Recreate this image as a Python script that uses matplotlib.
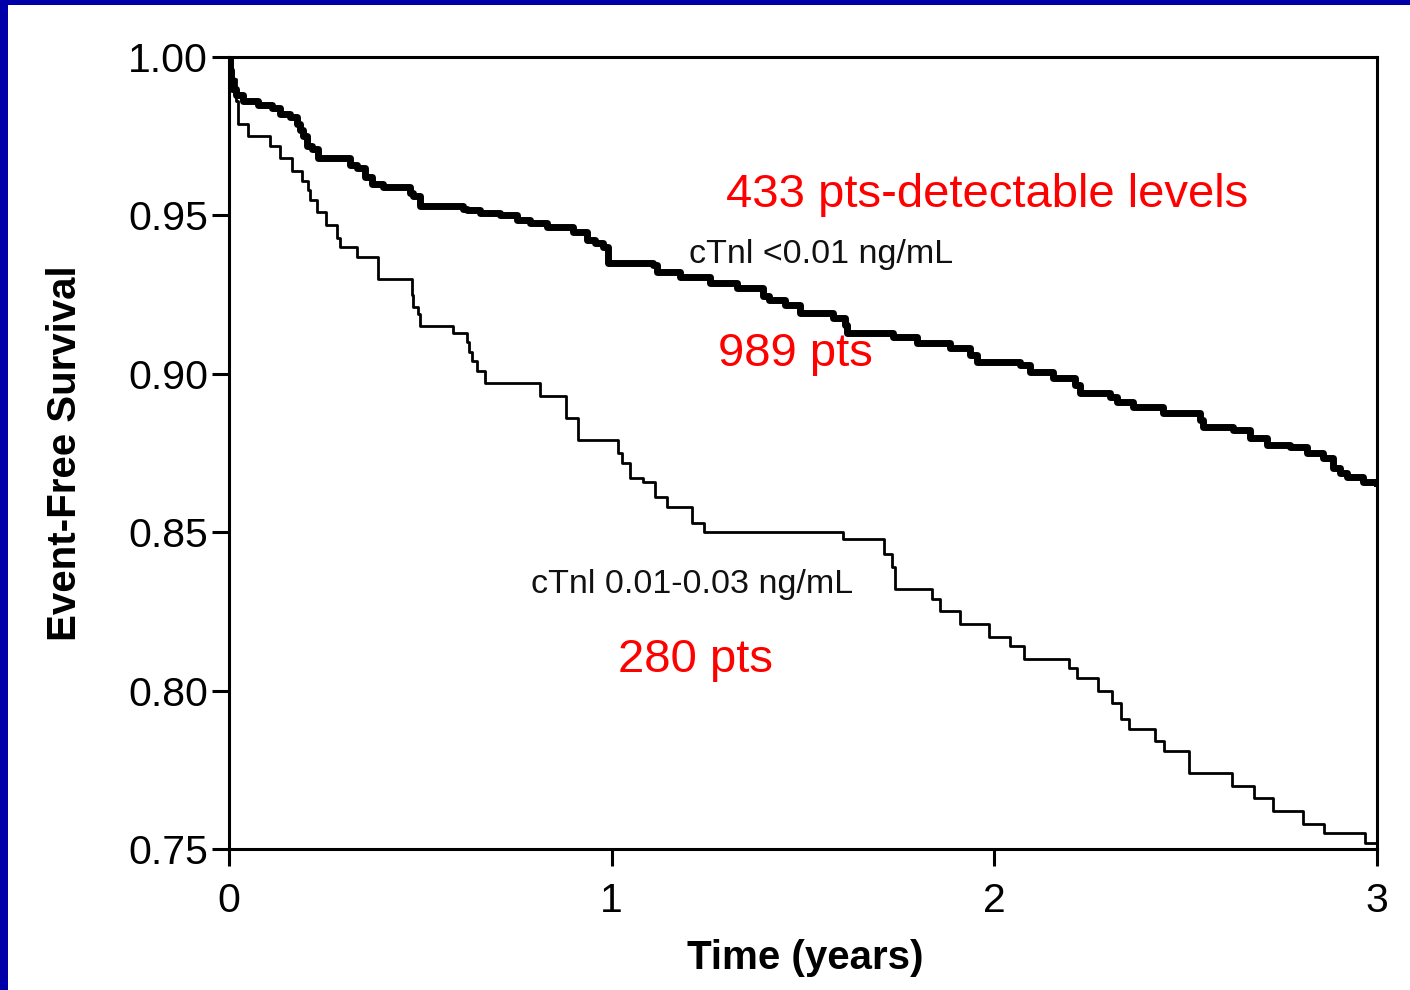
import matplotlib
matplotlib.use("Agg")
import matplotlib.pyplot as plt
from matplotlib.patches import Rectangle
import numpy as np

plt.rcParams['font.family'] = ['Liberation Sans', 'DejaVu Sans']

# Kaplan-Meier steps (time in years, survival after the step)
t_low = [0.000, 0.003, 0.005, 0.008, 0.018, 0.037, 0.076, 0.112, 0.133, 0.159,
         0.178, 0.186, 0.193, 0.204, 0.217, 0.233, 0.316, 0.334, 0.355, 0.374,
         0.402, 0.473, 0.481, 0.499, 0.611, 0.622, 0.656, 0.708, 0.753, 0.787,
         0.831, 0.899, 0.936, 0.956, 0.977, 0.990, 1.108, 1.118, 1.178, 1.257,
         1.327, 1.395, 1.412, 1.453, 1.492, 1.578, 1.610, 1.615, 1.735, 1.798,
         1.884, 1.936, 1.955, 2.067, 2.093, 2.153, 2.211, 2.224, 2.302, 2.320,
         2.362, 2.441, 2.537, 2.545, 2.624, 2.668, 2.713, 2.773, 2.817, 2.859,
         2.885, 2.903, 2.922, 2.963, 3.000]
s_low = [1.000, 0.996, 0.993, 0.990, 0.988, 0.986, 0.985, 0.984, 0.982, 0.981,
         0.979, 0.977, 0.975, 0.972, 0.971, 0.968, 0.966, 0.965, 0.962, 0.960,
         0.959, 0.957, 0.956, 0.953, 0.952, 0.9517, 0.9508, 0.950, 0.9485, 0.9476,
         0.9463, 0.9448, 0.9422, 0.9413, 0.940, 0.935, 0.9344, 0.9321, 0.9306, 0.9287,
         0.9271, 0.9245, 0.9233, 0.9217, 0.9192, 0.9176, 0.9154, 0.9129, 0.9116, 0.9097,
         0.9081, 0.9059, 0.9037, 0.9028, 0.9006, 0.8987, 0.8965, 0.8939, 0.8927, 0.8911,
         0.8895, 0.8876, 0.8854, 0.8832, 0.8822, 0.8797, 0.8775, 0.8769, 0.8750, 0.8734,
         0.8703, 0.8687, 0.8674, 0.8658, 0.8655]

t_mid = [0.000, 0.005, 0.018, 0.024, 0.050, 0.107, 0.133, 0.165, 0.191, 0.206,
         0.212, 0.230, 0.253, 0.282, 0.290, 0.334, 0.389, 0.478, 0.481, 0.494,
         0.499, 0.585, 0.622, 0.627, 0.635, 0.648, 0.669, 0.813, 0.881, 0.912,
         1.017, 1.027, 1.048, 1.082, 1.113, 1.145, 1.210, 1.241, 1.605, 1.712,
         1.733, 1.740, 1.837, 1.858, 1.910, 1.986, 2.041, 2.077, 2.195, 2.216,
         2.271, 2.307, 2.331, 2.352, 2.420, 2.443, 2.509, 2.621, 2.679, 2.728,
         2.807, 2.861, 2.969, 3.000]
s_mid = [1.000, 0.993, 0.986, 0.979, 0.975, 0.972, 0.968, 0.964, 0.961, 0.958,
         0.955, 0.951, 0.947, 0.943, 0.940, 0.937, 0.930, 0.925, 0.921, 0.919,
         0.915, 0.913, 0.910, 0.907, 0.904, 0.901, 0.897, 0.893, 0.886, 0.879,
         0.875, 0.872, 0.867, 0.866, 0.861, 0.858, 0.853, 0.850, 0.848, 0.843,
         0.839, 0.832, 0.829, 0.825, 0.821, 0.817, 0.814, 0.810, 0.807, 0.804,
         0.800, 0.796, 0.791, 0.788, 0.784, 0.781, 0.774, 0.770, 0.766, 0.762,
         0.758, 0.755, 0.752, 0.752]

x_ticks = [0, 1, 2, 3]
y_ticks = [0.75, 0.80, 0.85, 0.90, 0.95, 1.00]

fig = plt.figure(figsize=(14.1, 9.9), dpi=100)
fig.patch.set_facecolor('white')
ax = fig.add_axes([229 / 1410, 141 / 990, 1148 / 1410, 792 / 990])

ax.step(t_low, s_low, where='post', color='black', lw=5.0)
ax.step(t_mid, s_mid, where='post', color='black', lw=2.0)

ax.set_xlim(0, 3)
ax.set_ylim(0.75, 1.00)
ax.set_xticks(x_ticks)
ax.set_xticklabels([str(v) for v in x_ticks])
ax.set_yticks(y_ticks)
ax.set_yticklabels(['%.2f' % v for v in y_ticks])
for sp in ax.spines.values():
    sp.set_linewidth(2.2)
ax.tick_params(axis='y', direction='out', length=12, width=2.2, pad=3, labelsize=29.5, colors='black')
ax.tick_params(axis='x', direction='out', length=12, width=2.2, pad=12, labelsize=29.5, colors='black')

ax.set_ylabel('Event-Free Survival', fontsize=29, fontweight='bold', va='center')
ax.yaxis.set_label_coords(-0.143, 0.5)
ax.set_xlabel('Time (years)', fontsize=29, fontweight='bold', va='center')
ax.xaxis.set_label_coords(0.502, -0.1376)

ax.text(1.981, 0.9527, '433 pts-detectable levels', color='red', fontsize=34, ha='center', va='baseline')
ax.text(1.547, 0.935, 'cTnl <0.01 ng/mL', color='#111111', fontsize=24.5, ha='center', va='baseline')
ax.text(1.479, 0.9025, '989 pts', color='red', fontsize=34, ha='center', va='baseline')
ax.text(1.210, 0.8308, 'cTnl 0.01-0.03 ng/mL', color='#111111', fontsize=24.5, ha='center', va='baseline')
ax.text(1.218, 0.8059, '280 pts', color='red', fontsize=34, ha='center', va='baseline')

# blue slide frame on the left and top edges
fig.patches.append(Rectangle((0, 0), 8 / 1410, 1, transform=fig.transFigure,
                             facecolor='#0000A8', edgecolor='none', zorder=-1))
fig.patches.append(Rectangle((0, 1 - 5 / 990), 1, 5 / 990, transform=fig.transFigure,
                             facecolor='#0000A8', edgecolor='none', zorder=-1))

fig.savefig('out.png', dpi=100)
